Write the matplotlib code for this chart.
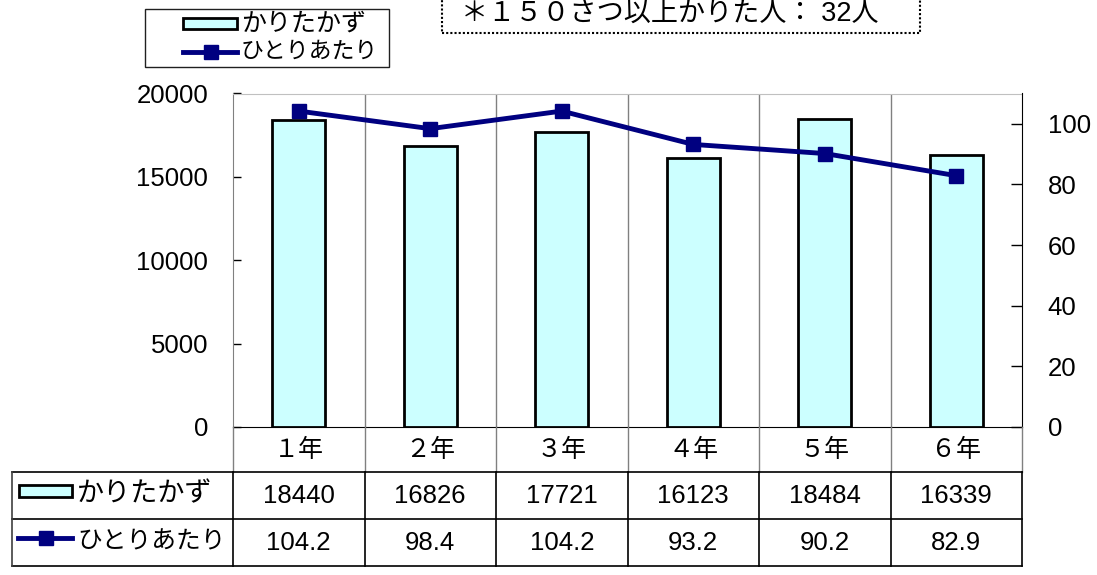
import matplotlib
matplotlib.use("Agg")
import matplotlib.pyplot as plt
from matplotlib.lines import Line2D
from matplotlib.patches import Rectangle
from matplotlib.transforms import blended_transform_factory
import numpy as np

plt.rcParams['font.family'] = ['Liberation Sans', 'Noto Sans CJK JP', 'DejaVu Sans']

categories = ["１年", "２年", "３年", "４年", "５年", "６年"]
books = [18440, 16826, 17721, 16123, 18484, 16339]
per_person = [104.2, 98.4, 104.2, 93.2, 90.2, 82.9]
book_labels = ["18440", "16826", "17721", "16123", "18484", "16339"]
pp_labels = ["104.2", "98.4", "104.2", "93.2", "90.2", "82.9"]
series_names = ["かりたかず", "ひとりあたり"]
note = "＊１５０さつ以上かりた人： 32人"

W, H = 1097, 575
fig = plt.figure(figsize=(W / 100, H / 100), dpi=100)

def fx(px):
    return px / W

def fy(py):
    return 1 - py / H

BAR_FC = "#CCFFFF"
LINE_C = "#000080"

ax = fig.add_axes([fx(233), fy(427), fx(1022) - fx(233), fy(93.5) - fy(427)])
x = np.arange(len(categories))
ax.bar(x, books, width=0.4, color=BAR_FC, edgecolor="black", linewidth=2, zorder=3)
ax.set_xlim(-0.5, len(categories) - 0.5)
ax.set_ylim(0, 20000)
ax.set_yticks([0, 5000, 10000, 15000, 20000])
ax.set_xticks([])
for b in np.arange(0.5, len(categories) - 0.5, 1):
    ax.axvline(b, color="#808080", lw=1, zorder=1)
ax.tick_params(axis='y', direction='in', length=6, width=1, pad=18, labelsize=18.5, colors='black')
ax.spines['top'].set_color('#c0c0c0')
ax.spines['left'].set_color('#808080')
ax.spines['bottom'].set_color('black')
ax.spines['right'].set_visible(False)

ax2 = ax.twinx()
ax2.plot(x, per_person, color=LINE_C, lw=3.5, marker='s', markersize=10, zorder=5)
ax2.set_ylim(0, 110)
ax2.set_yticks([0, 20, 40, 60, 80, 100])
ax2.tick_params(axis='y', direction='in', length=8, width=1, pad=18.5, labelsize=18.5)
ax2.spines['right'].set_color('black')
ax2.spines['top'].set_visible(False)
ax2.spines['left'].set_visible(False)
ax2.spines['bottom'].set_visible(False)

# data table
tr = blended_transform_factory(ax.transData, fig.transFigure)
trf = fig.transFigure
y_top, y_r1, y_r2, y_bot = fy(427), fy(472), fy(519), fy(566)
bounds = np.arange(-0.5, len(categories), 1)
for b in bounds:
    fig.add_artist(Line2D([b, b], [y_top, y_r1], transform=tr, color="#808080", lw=1))
    fig.add_artist(Line2D([b, b], [y_r1, y_bot], transform=tr, color="black", lw=1.2))
for yy in (y_r1, y_r2, y_bot):
    fig.add_artist(Line2D([fx(11.5), fx(1022)], [yy, yy], transform=trf, color="black", lw=1.2))
fig.add_artist(Line2D([fx(11.5), fx(11.5)], [y_r1, y_bot], transform=trf, color="#404040", lw=1.2))

for i, c in enumerate(categories):
    fig.text(i, fy(450), c, transform=tr, ha='center', va='center', fontsize=18)
    fig.text(i, fy(496), book_labels[i], transform=tr, ha='center', va='center', fontsize=18.5)
    fig.text(i, fy(543), pp_labels[i], transform=tr, ha='center', va='center', fontsize=18.5)

# table legend keys
fig.add_artist(Rectangle((fx(19), fy(497)), fx(72) - fx(19), fy(485) - fy(497), transform=trf,
                         facecolor=BAR_FC, edgecolor="black", lw=2))
fig.text(fx(77), fy(494), series_names[0], ha='left', va='center', fontsize=19.5)
fig.add_artist(Line2D([fx(18), fx(72)], [fy(538), fy(538)], transform=trf, color=LINE_C, lw=3.5))
fig.add_artist(Line2D([fx(45.5)], [fy(538)], transform=trf, color=LINE_C, marker='s', markersize=10.5, lw=0))
fig.text(fx(77), fy(541), series_names[1], ha='left', va='center', fontsize=17.8)

# top legend
fig.add_artist(Rectangle((fx(145), fy(67)), fx(389) - fx(145), fy(9) - fy(67), transform=trf,
                         facecolor="white", edgecolor="#202020", lw=1))
fig.add_artist(Rectangle((fx(183), fy(29)), fx(237) - fx(183), fy(18) - fy(29), transform=trf,
                         facecolor=BAR_FC, edgecolor="black", lw=2))
fig.text(fx(241), fy(24), series_names[0], ha='left', va='center', fontsize=18)
fig.add_artist(Line2D([fx(183), fx(237)], [fy(51.5), fy(51.5)], transform=trf, color=LINE_C, lw=3.5))
fig.add_artist(Line2D([fx(211)], [fy(51.5)], transform=trf, color=LINE_C, marker='s', markersize=10, lw=0))
fig.text(fx(241), fy(51), series_names[1], ha='left', va='center', fontsize=16.5)

# note box (top cut off)
fig.add_artist(Rectangle((fx(442), fy(33)), fx(920) - fx(442), fy(-20) - fy(33), transform=trf,
                         facecolor="white", edgecolor="black", lw=1.5, linestyle=(0, (1, 1))))
fig.text(fx(670), fy(14), note, ha='center', va='center', fontsize=19.5)

fig.savefig("out.png", dpi=100)
